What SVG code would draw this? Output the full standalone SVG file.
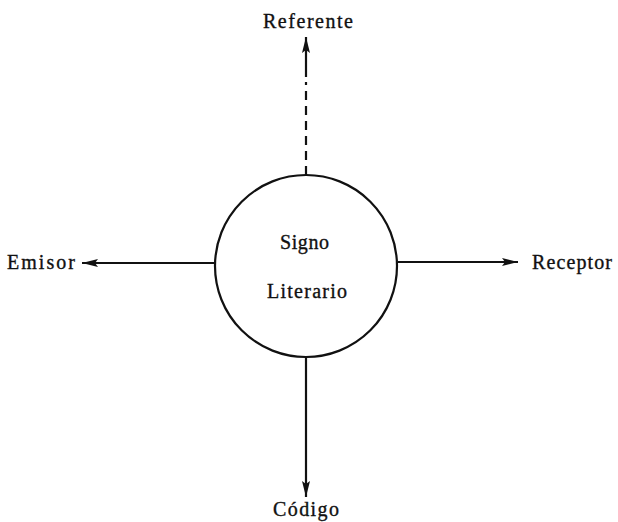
<svg xmlns="http://www.w3.org/2000/svg" width="618" height="522" viewBox="0 0 618 522">
<style>
text{font-family:"Liberation Serif","Times New Roman",serif;font-size:20px;fill:#111;stroke:#111;stroke-width:0.35}
.ln{stroke:#111;stroke-width:2.2;fill:none}
</style>
<defs>
<marker id="ah" viewBox="0 0 16 8" refX="16" refY="4" markerWidth="16" markerHeight="8" markerUnits="userSpaceOnUse" orient="auto">
<path d="M0,0 L16,4 L0,8 L3,4 Z" fill="#111"/>
</marker>
</defs>
<rect width="618" height="522" fill="#fff"/>
<g id="connectors">
<line class="ln" x1="306" y1="77" x2="306" y2="37" marker-end="url(#ah)"/>
<line class="ln" x1="306" y1="175" x2="306" y2="82" stroke-dasharray="9 6"/>
<line class="ln" x1="215" y1="263" x2="82" y2="263" marker-end="url(#ah)"/>
<line class="ln" x1="398" y1="262" x2="518" y2="262" marker-end="url(#ah)"/>
<line class="ln" x1="306" y1="357" x2="306" y2="497" marker-end="url(#ah)"/>
</g>
<g id="signo">
<circle class="ln" cx="306" cy="266" r="91"/>
<text x="280" y="249" textLength="49" lengthAdjust="spacing">Signo</text>
<text x="267" y="298" textLength="80" lengthAdjust="spacing">Literario</text>
</g>
<g id="referente"><text x="263" y="28" textLength="90" lengthAdjust="spacing">Referente</text></g>
<g id="emisor"><text x="7" y="269" textLength="68" lengthAdjust="spacing">Emisor</text></g>
<g id="receptor"><text x="532" y="269" textLength="80" lengthAdjust="spacing">Receptor</text></g>
<g id="codigo"><text x="273" y="516" textLength="66" lengthAdjust="spacing">Código</text></g>
</svg>
